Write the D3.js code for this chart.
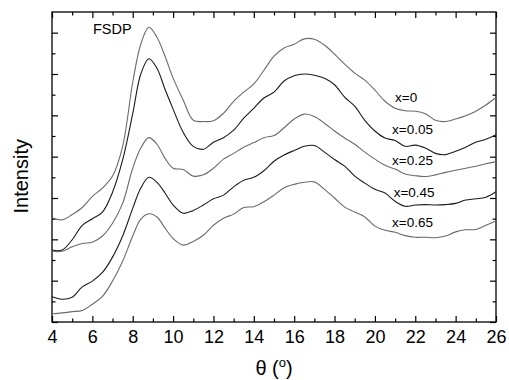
<!DOCTYPE html>
<html>
<head>
<meta charset="utf-8">
<script src="https://cdn.jsdelivr.net/npm/d3@7"></script>
<style>
  body { margin: 0; background: #fff; }
  svg text { font-family: Arial, "Liberation Sans", sans-serif; fill: #000; }
</style>
</head>
<body>
<figure id="chart" style="margin:0"></figure>
<script>
// diffraction angle grid (deg)
const theta = [4, 4.5, 5, 5.5, 6, 6.5, 7, 7.5, 8, 8.4, 8.8, 9.2, 9.6, 10, 10.5, 11, 11.5, 12, 12.5, 13,
  13.5, 14, 14.5, 15, 15.5, 16, 16.5, 17, 17.5, 18, 18.5, 19, 19.5, 20, 20.5, 21, 21.5, 22, 22.5, 23,
  23.5, 24, 24.5, 25, 25.5, 26];

// intensity (arb. units, curves already offset)
const x000 = [2.52, 2.47, 2.60, 2.77, 3.04, 3.24, 3.53, 4.25, 5.80, 6.72, 7.13, 6.89, 6.43, 5.90, 5.37, 4.88,
  4.85, 4.87, 5.05, 5.34, 5.56, 5.76, 6.09, 6.43, 6.63, 6.72, 6.85, 6.84, 6.70, 6.48, 6.24, 6.02, 5.85,
  5.61, 5.34, 5.17, 5.11, 5.10, 5.04, 4.88, 4.85, 4.91, 4.99, 5.10, 5.25, 5.43];
const x005 = [1.74, 1.74, 1.99, 2.34, 2.50, 2.66, 3.14, 3.92, 5.04, 6.00, 6.37, 6.14, 5.63, 5.15, 4.59, 4.25,
  4.18, 4.35, 4.46, 4.64, 4.93, 5.17, 5.42, 5.56, 5.83, 5.96, 6.00, 5.97, 5.90, 5.74, 5.44, 5.22, 4.88,
  4.62, 4.45, 4.39, 4.25, 4.28, 4.21, 4.08, 4.05, 4.13, 4.23, 4.35, 4.42, 4.53];
const x025 = [1.71, 1.71, 1.82, 1.90, 1.93, 2.08, 2.39, 2.87, 3.72, 4.21, 4.46, 4.30, 3.96, 3.72, 3.69, 3.53,
  3.56, 3.72, 3.94, 4.08, 4.23, 4.34, 4.46, 4.51, 4.70, 4.91, 5.03, 4.97, 4.81, 4.62, 4.45, 4.30, 4.11,
  3.94, 3.79, 3.70, 3.58, 3.54, 3.52, 3.56, 3.62, 3.67, 3.72, 3.77, 3.83, 3.88];
const x045 = [0.61, 0.55, 0.60, 0.85, 0.99, 1.20, 1.57, 2.08, 2.75, 3.24, 3.50, 3.38, 3.12, 2.83, 2.63, 2.70,
  2.83, 2.98, 3.07, 3.27, 3.43, 3.50, 3.66, 3.89, 4.04, 4.15, 4.25, 4.27, 4.11, 3.93, 3.77, 3.53, 3.36,
  3.21, 3.12, 2.92, 2.80, 2.83, 2.84, 2.83, 2.84, 2.87, 2.95, 2.98, 3.02, 3.15];
const x065 = [0.20, 0.22, 0.25, 0.28, 0.43, 0.62, 0.99, 1.47, 2.08, 2.49, 2.62, 2.54, 2.27, 2.02, 1.86, 1.95,
  2.10, 2.34, 2.51, 2.61, 2.77, 2.79, 2.91, 3.07, 3.25, 3.33, 3.38, 3.39, 3.21, 3.00, 2.78, 2.66, 2.54,
  2.32, 2.22, 2.17, 2.09, 2.05, 2.05, 2.04, 2.08, 2.18, 2.23, 2.24, 2.34, 2.45];

const seriesNames = ["x=0", "x=0.05", "x=0.25", "x=0.45", "x=0.65"];
const seriesValues = [x000, x005, x025, x045, x065];
const seriesColors = ["#6a6a6a", "#1a1a1a", "#6a6a6a", "#1a1a1a", "#6a6a6a"];
// where each label sits (theta, intensity)
const labelTheta = [21, 20.85, 20.85, 20.93, 20.85];
const labelValue = [5.33, 4.54, 3.79, 3.03, 2.30];

const xTicks = [4, 6, 8, 10, 12, 14, 16, 18, 20, 22, 24, 26];
const xMinor = [5, 7, 9, 11, 13, 15, 17, 19, 21, 23, 25];
const yTicks = [0, 1, 2, 3, 4, 5, 6, 7];
const yMinor = [0.5, 1.5, 2.5, 3.5, 4.5, 5.5, 6.5];

const size = { width: 509, height: 380, top: 12, right: 13, bottom: 58, left: 52 };
const w = size.width - size.left - size.right;
const h = size.height - size.top - size.bottom;

const svg = d3.select("#chart").append("svg")
  .attr("width", size.width)
  .attr("height", size.height);

const g = svg.append("g")
  .attr("transform", "translate(" + size.left + "," + size.top + ")");

const x = d3.scaleLinear().domain([4, 26]).range([0, w]);
const y = d3.scaleLinear().domain([0, 7.5]).range([h, 0]);

// --- axes, ticks inward on all four sides ---
function mirrorAxis(axisFn, scale, major, minor, transform, labels) {
  const a = g.append("g").attr("transform", transform);
  a.call(axisFn(scale).tickValues(major).tickSize(-6).tickPadding(8)
    .tickFormat(labels ? d3.format("d") : ""));
  a.call(sel => sel.select(".domain").remove());
  const b = g.append("g").attr("transform", transform);
  b.call(axisFn(scale).tickValues(minor).tickSize(-3.5).tickFormat(""));
  b.call(sel => sel.select(".domain").remove());
  a.selectAll("line").attr("stroke", "#000").attr("stroke-width", 1.2);
  b.selectAll("line").attr("stroke", "#000").attr("stroke-width", 1.2);
  return a;
}

const xb = mirrorAxis(d3.axisBottom, x, xTicks, xMinor, "translate(0," + h + ")", true);
xb.selectAll("text").attr("font-size", 18).attr("dy", "0.71em");
mirrorAxis(d3.axisTop, x, xTicks, xMinor, "translate(0,0)", false);
mirrorAxis(d3.axisLeft, y, yTicks, yMinor, "translate(0,0)", false);
mirrorAxis(d3.axisRight, y, yTicks, yMinor, "translate(" + w + ",0)", false);

g.append("rect")
  .attr("width", w).attr("height", h)
  .attr("fill", "none").attr("stroke", "#000").attr("stroke-width", 1.3);

// --- curves ---
const line = d3.line()
  .x((d, i) => x(theta[i]))
  .y(d => y(d))
  .curve(d3.curveCatmullRom.alpha(0.5));

g.selectAll(".curve")
  .data(seriesValues)
  .join("path")
  .attr("class", "curve")
  .attr("d", line)
  .attr("fill", "none")
  .attr("stroke", (d, i) => seriesColors[i])
  .attr("stroke-width", 1.1);

g.selectAll(".lbl")
  .data(seriesNames)
  .join("text")
  .attr("class", "lbl")
  .attr("x", (d, i) => x(labelTheta[i]))
  .attr("y", (d, i) => y(labelValue[i]))
  .attr("font-size", 13.5)
  .text(d => d);

g.append("text")
  .attr("x", x(6.03))
  .attr("y", y(6.97))
  .attr("font-size", 14.5)
  .text("FSDP");

// axis titles
svg.append("text")
  .attr("transform", "translate(28," + (size.top + h * 0.53) + ") rotate(-90)")
  .attr("text-anchor", "middle")
  .attr("font-size", 20)
  .text("Intensity");

const xt = svg.append("text")
  .attr("x", size.left + w / 2)
  .attr("y", 375)
  .attr("text-anchor", "middle")
  .attr("font-size", 20);
xt.append("tspan").text("θ (");
xt.append("tspan").attr("font-size", 13).attr("dy", -8).text("o");
xt.append("tspan").attr("dy", 8).text(")");
</script>
</body>
</html>
